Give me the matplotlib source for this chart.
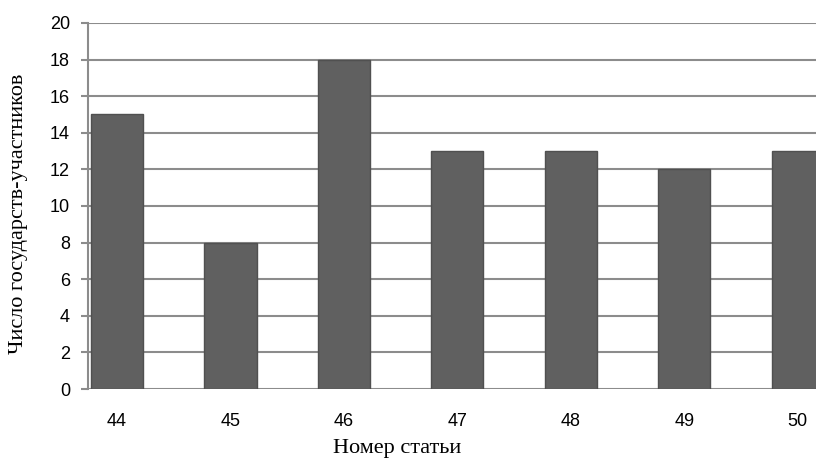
import matplotlib
matplotlib.use("Agg")
import matplotlib.pyplot as plt

categories = ["44", "45", "46", "47", "48", "49", "50"]
values = [15, 8, 18, 13, 13, 12, 13]
yticks = [0, 2, 4, 6, 8, 10, 12, 14, 16, 18, 20]

fig = plt.figure(figsize=(8.16, 4.62), dpi=100)
ax = fig.add_axes([88/816, 1 - 389/462, (816 - 88)/816, (389 - 23)/462])

x = list(range(len(categories)))
ax.bar(x, values, width=0.46, color="#606060", edgecolor="#505050", linewidth=1.0, zorder=3)

ax.set_ylim(0, 20)
ax.set_xlim(-0.255, 6.16)
ax.set_yticks(yticks)
ax.set_yticklabels([str(t) for t in yticks], family="Liberation Sans", fontsize=13)
ax.set_xticks(x)
ax.set_xticklabels(categories, family="Liberation Sans", fontsize=13)
ax.tick_params(axis="x", length=0, pad=17)
ax.tick_params(axis="y", length=5, width=1.5, color="#8c8c8c", pad=8)
ax.grid(axis="y", color="#8c8c8c", linewidth=1.5, zorder=0)

for s in ["top", "right", "bottom"]:
    ax.spines[s].set_visible(False)
ax.spines["left"].set_color("#8c8c8c")
ax.spines["left"].set_linewidth(1.5)

fig.text(397/816, 1 - 449/462, "Номер статьи", family="Liberation Serif", fontsize=16,
         ha="center", va="center")
fig.text(19/816, 1 - 214/462, "Число государств-участников", family="Liberation Serif",
         fontsize=16, ha="center", va="center", rotation=90)

fig.savefig("out.png", dpi=100)
